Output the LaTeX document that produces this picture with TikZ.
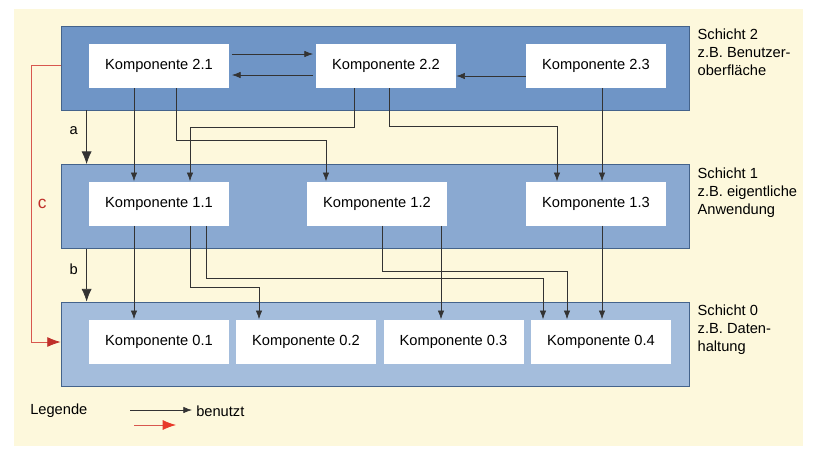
\documentclass[tikz,border=0pt]{standalone}
\usepackage{fontspec}
\setmainfont{Liberation Sans}
\usetikzlibrary{arrows.meta, calc, positioning}

\definecolor{creme}{HTML}{FDF8DC}
\definecolor{blau2}{HTML}{6F95C6}
\definecolor{blau1}{HTML}{8AA9D1}
\definecolor{blau0}{HTML}{A4BDDC}
\definecolor{rahmen}{HTML}{44638B}
\definecolor{rot}{HTML}{C0302A}
\definecolor{rotlinie}{HTML}{D8574E}
\definecolor{hellrot}{HTML}{E8392A}

\tikzset{
  schicht/.style={draw=rahmen, line width=0.6pt, minimum width=471pt, minimum height=63pt, inner sep=0pt},
  komp/.style={fill=white, minimum width=105pt, minimum height=33pt, inner sep=0pt},
  pfeil/.style={draw=black!80, line width=0.5pt, -{Latex[length=6.5pt,width=4.8pt]}},
  grosspfeil/.style={draw=black!80, line width=0.5pt, -{Latex[length=9.5pt,width=7.5pt]}},
  rotpfeil/.style={draw=rotlinie, line width=0.6pt, -{Latex[length=10pt,width=7.5pt,color=#1]}},
  info/.style={anchor=north west, align=left, inner sep=0pt, font=\fontsize{11}{13.5}\selectfont}
}

\begin{document}
\begin{tikzpicture}[x=0.75pt, y=-0.75pt, font=\fontsize{11}{13}\selectfont]
   \useasboundingbox (0,0) rectangle (816,458);
   \fill[creme] (14,9) rectangle (803,446);

   % Schichten
   \node[schicht, fill=blau2] (S2) at (375,68) {};
   \node[schicht, fill=blau1] (S1) at (375,206.5) {};
   \node[schicht, fill=blau0] (S0) at (375,344) {};

   \node[info] (I2) at ($(S2.north east)+(8,3)$) {Schicht 2\\z.B. Benutzer-\\oberfläche};
   \node[info] (I1) at ($(S1.north east)+(8,3)$) {Schicht 1\\z.B. eigentliche\\Anwendung};
   \node[info] (I0) at ($(S0.north east)+(8,3)$) {Schicht 0\\z.B. Daten-\\haltung};

   % Komponenten
   \node[komp] (K21) at (159,66) {Komponente 2.1};
   \node[komp] (K22) at (386,66) {Komponente 2.2};
   \node[komp] (K23) at (596,66) {Komponente 2.3};
   \node[komp] (K11) at (159,203.5) {Komponente 1.1};
   \node[komp] (K12) at (377,203.5) {Komponente 1.2};
   \node[komp] (K13) at (596,203.5) {Komponente 1.3};
   \node[komp] (K01) at (159,341.5) {Komponente 0.1};
   \node[komp] (K02) at (306,341.5) {Komponente 0.2};
   \node[komp] (K03) at (453.5,341.5) {Komponente 0.3};
   \node[komp] (K04) at (601,341.5) {Komponente 0.4};

   % innerhalb Schicht 2
   \draw[pfeil, shorten <=2pt, shorten >=2pt] ($(K21.east)+(0,-12)$) -- ($(K22.west)+(0,-12)$);
   \draw[pfeil, shorten <=2pt, shorten >=2pt] ($(K22.west)+(0,9)$) -- ($(K21.east)+(0,9)$);
   \draw[pfeil] ($(K23.west)+(0,10)$) -- ($(K22.east)+(0,10)$);

   % Schicht 2 -> Schicht 1
   \draw[pfeil] ($(K21.south)+(-25,0)$) coordinate (t) -- (t |- K11.north);
   \draw[pfeil] ($(K21.south)+(17,0)$) -- ++(0,52) -| ($(K12.north)+(-51,0)$);
   \draw[pfeil] ($(K22.south)+(-32,0)$) -- ++(0,39) -| ($(K11.north)+(31,0)$);
   \draw[pfeil] ($(K22.south)+(3,0)$) -- ++(0,38) -| ($(K13.north)+(-39,0)$);
   \draw[pfeil] ($(K23.south)+(6,0)$) coordinate (t) -- (t |- K13.north);

   % Schicht 1 -> Schicht 0
   \draw[pfeil] ($(K11.south)+(-25,0)$) coordinate (t) -- (t |- K01.north);
   \draw[pfeil] ($(K11.south)+(31,0)$) -- ++(0,62) -| ($(K02.north)+(-47,0)$);
   \draw[pfeil] ($(K11.south)+(47,0)$) -- ++(0,53) -| ($(K04.north)+(-58,0)$);
   \draw[pfeil] ($(K12.south)+(5,0)$) -- ++(0,46) -| ($(K04.north)+(-34,0)$);
   \draw[pfeil] ($(K12.south)+(64,0)$) coordinate (t) -- (t |- K03.north);
   \draw[pfeil] ($(K13.south)+(6,0)$) coordinate (t) -- (t |- K04.north);

   % Schichten untereinander
   \draw[grosspfeil] ($(S2.south west)+(26,0)$) -- node[pos=0.38, left=3pt] {a} ($(S1.north west)+(26,0)$);
   \draw[grosspfeil] ($(S1.south west)+(26,0)$) -- node[pos=0.38, left=3pt] {b} ($(S0.north west)+(26,0)$);
   \draw[rotpfeil=rot] ($(S2.west)+(0,-3)$) -- ++(-29,0) |- node[pos=0.25, right=1pt, text=rot, font=\fontsize{13}{15}\selectfont] {c} ($(S0.west)+(0,-2)$);

   % Legende
   \node[anchor=west, inner sep=0pt] (leg) at (30,411) {Legende};
   \node[anchor=west, inner sep=0pt] (benutzt) at (196,411) {benutzt};
   \coordinate (l1) at (130,410);
   \draw[pfeil] (l1) -- ($(benutzt.west)+(-4,-1)$);
   \coordinate (l2) at (134,425);
   \coordinate (l3) at (176,425);
   \draw[rotpfeil=hellrot] (l2) -- (l3);
\end{tikzpicture}
\end{document}
